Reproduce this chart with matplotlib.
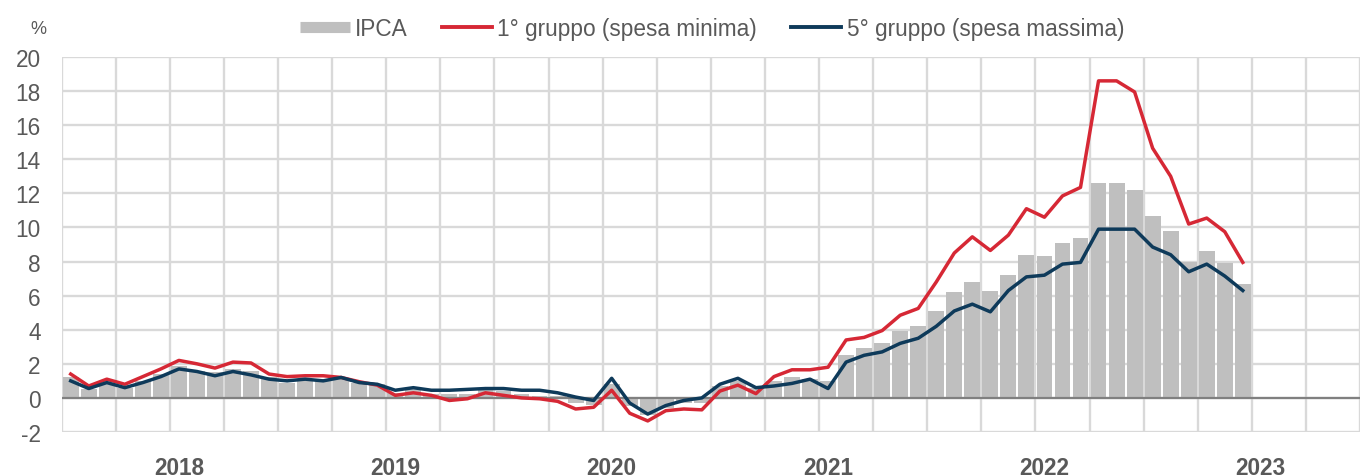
import matplotlib
matplotlib.use('Agg')
import matplotlib.pyplot as plt
from matplotlib import font_manager
from matplotlib.lines import Line2D
import numpy as np

# font: Arial Narrow look-alike if present
names = {f.name for f in font_manager.fontManager.ttflist}
narrow = 'Liberation Sans Narrow' in names
plt.rcParams['font.family'] = ['Liberation Sans Narrow', 'Liberation Sans', 'DejaVu Sans']
plt.rcParams['axes.unicode_minus'] = False
fs = 18.5 if narrow else 16.3

# mesi da gen 2018 a giu 2023, variazioni tendenziali %
ipca = [1.2, 0.5, 0.9, 0.6, 1.0, 1.4, 1.9, 1.6, 1.5, 1.7, 1.6, 1.2,
        0.9, 1.1, 1.1, 1.1, 0.9, 0.8, 0.3, 0.5, 0.2, 0.2, 0.2, 0.5,
        0.4, 0.2, 0.1, 0.1, -0.3, -0.4, 0.8, -0.5, -1.0, -0.6, -0.3, -0.3,
        0.7, 1.0, 0.6, 1.0, 1.2, 1.1, 1.0, 2.5, 2.9, 3.2, 3.9, 4.2,
        5.1, 6.2, 6.8, 6.3, 7.2, 8.4, 8.3, 9.1, 9.4, 12.6, 12.6, 12.2,
        10.7, 9.8, 8.0, 8.6, 7.9, 6.7]
gruppo1 = [1.4, 0.7, 1.1, 0.8, 1.25, 1.7, 2.2, 2.0, 1.75, 2.1, 2.05, 1.4,
           1.25, 1.3, 1.3, 1.2, 0.95, 0.75, 0.15, 0.3, 0.15, -0.15, -0.05, 0.3,
           0.15, 0.0, -0.05, -0.2, -0.65, -0.55, 0.45, -0.9, -1.35, -0.75, -0.65, -0.7,
           0.4, 0.75, 0.25, 1.25, 1.65, 1.65, 1.8, 3.4, 3.55, 3.95, 4.85, 5.25,
           6.8, 8.5, 9.45, 8.65, 9.55, 11.1, 10.6, 11.85, 12.35, 18.6, 18.6, 17.95,
           14.65, 13.0, 10.2, 10.55, 9.75, 7.95]
gruppo5 = [1.0, 0.55, 0.9, 0.6, 0.9, 1.25, 1.7, 1.55, 1.3, 1.55, 1.35, 1.1,
           1.0, 1.1, 1.0, 1.2, 0.9, 0.8, 0.45, 0.6, 0.45, 0.45, 0.5, 0.55,
           0.55, 0.45, 0.45, 0.3, 0.05, -0.15, 1.15, -0.3, -0.95, -0.45, -0.15, 0.0,
           0.8, 1.15, 0.6, 0.7, 0.85, 1.1, 0.55, 2.1, 2.5, 2.7, 3.2, 3.5,
           4.2, 5.1, 5.5, 5.05, 6.3, 7.1, 7.2, 7.85, 7.95, 9.9, 9.9, 9.9,
           8.85, 8.4, 7.4, 7.85, 7.15, 6.3]
anni = ['2018', '2019', '2020', '2021', '2022', '2023']

grigio_testo = '#595959'
rosso = '#D62835'
blu = '#0E3A5A'

x = np.arange(len(ipca))

fig = plt.figure(figsize=(13.6, 4.77), dpi=100)
ax = fig.add_axes([61.7 / 1360, 1 - 433 / 477, 1 - 61.7 / 1360, (433 - 58) / 477])

ax.bar(x, ipca, width=0.88, color='#BFBFBF', zorder=2)
ax.axhline(0, color='#808080', lw=1.6, zorder=3)
ax.plot(x, gruppo1, color=rosso, lw=2.5, zorder=4)
ax.plot(x, gruppo5, color=blu, lw=2.5, zorder=5)

ax.set_xlim(-0.5, -0.5 + (1360 - 61.7) / 18.15)
ax.set_ylim(-2, 20)
ax.set_yticks(np.arange(-2, 21, 2))
ax.set_xticks(np.arange(-0.5, 72, 3), minor=True)
ax.set_xticks([6 + 12 * i for i in range(len(anni))])
ax.set_xticklabels(anni, fontweight='bold')
ax.grid(True, which='major', axis='y', color='#D9D9D9', lw=1.7, zorder=0)
ax.grid(True, which='minor', axis='x', color='#D9D9D9', lw=1.7, zorder=0)
ax.set_axisbelow(True)
for s in ax.spines.values():
    s.set_visible(False)
ax.tick_params(axis='both', which='both', length=0, colors=grigio_testo, labelsize=fs)
ax.tick_params(axis='y', pad=15)
ax.tick_params(axis='x', pad=17)

fig.text(38 / 1360, 1 - 30 / 477, '%', ha='center', va='center',
         fontsize=fs * 0.8, color=grigio_testo)

handles = [Line2D([], [], color='#BFBFBF', lw=8, solid_capstyle='butt'),
           Line2D([], [], color=rosso, lw=2.8),
           Line2D([], [], color=blu, lw=2.8)]
labels = ['IPCA', '1° gruppo (spesa minima)', '5° gruppo (spesa massima)']
leg = fig.legend(handles, labels, loc='center', bbox_to_anchor=(712 / 1360, 1 - 29.5 / 477),
                 ncol=3, frameon=False, fontsize=fs, handlelength=2.2,
                 handletextpad=0.25, columnspacing=1.5, borderaxespad=0, borderpad=0)
for t in leg.get_texts():
    t.set_color(grigio_testo)

fig.savefig('out.png', dpi=100)
